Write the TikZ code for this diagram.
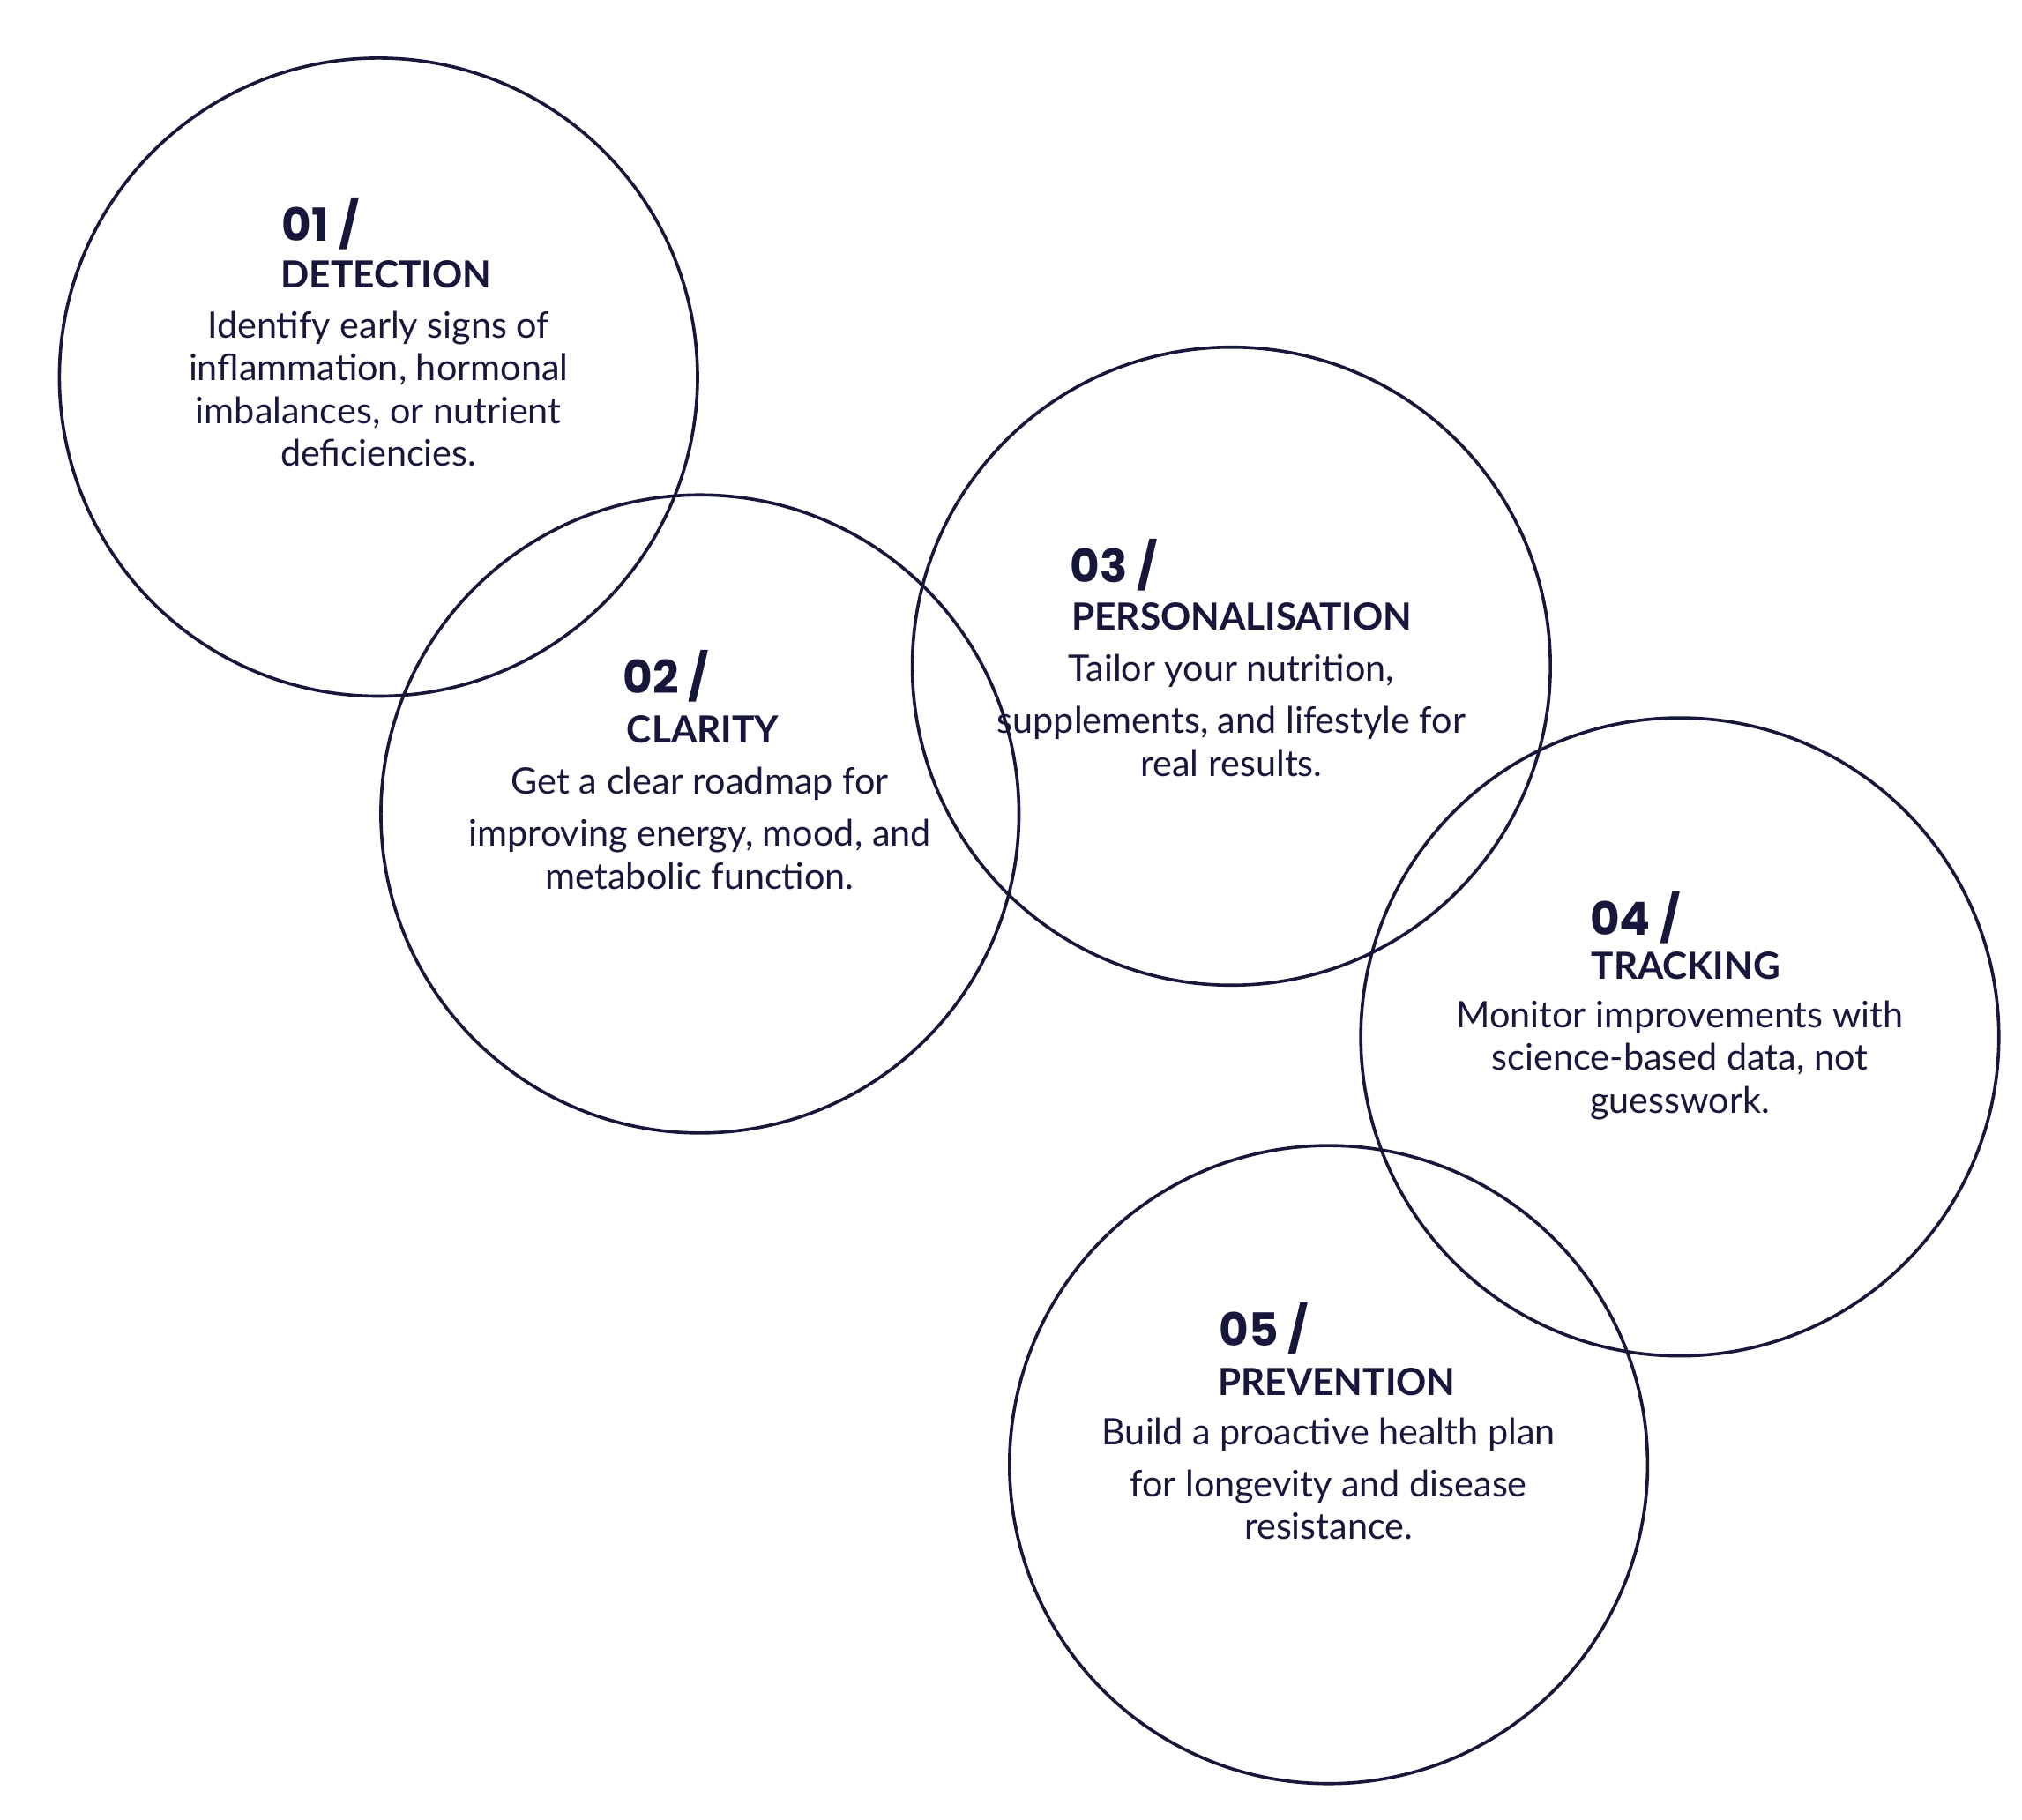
\documentclass[tikz,border=0pt]{standalone}
\usepackage{fontspec}
\setmainfont{Lato}
\newfontfamily\numfont{Poppins}
\definecolor{ink}{HTML}{16173A}
\tikzset{
  ring/.style={draw=ink,line width=0.7pt},
  num/.style={anchor=west,inner sep=0pt,text=ink,font=\numfont\bfseries\fontsize{10}{12}\selectfont},
  head/.style={anchor=west,inner sep=0pt,text=ink,font=\bfseries\fontsize{8.2}{10}\selectfont},
  body/.style={anchor=center,inner sep=0pt,text=ink,align=center,font=\fontsize{8}{9.4}\selectfont}
}
\begin{document}
\begin{tikzpicture}[x=0.01cm,y=-0.01cm]
\useasboundingbox (0,0) rectangle (1560,1404);
\fill[white] (0,0) rectangle (1560,1404);
\node[ring,circle,minimum size=4.92cm,inner sep=0] (c1) at (292,291) {};
\node[ring,circle,minimum size=4.92cm,inner sep=0] (c2) at (540,628) {};
\node[ring,circle,minimum size=4.92cm,inner sep=0] (c3) at (950,514) {};
\node[ring,circle,minimum size=4.92cm,inner sep=0] (c4) at (1296,800) {};
\node[ring,circle,minimum size=4.92cm,inner sep=0] (c5) at (1025,1130) {};
% 1
\node[num] (n1) at (217,173) {01 /};
\node[head] (h1) at (216,212) {DETECTION};
\node[body] (b1) at (292,300) {Identify early signs of\\inflammation, hormonal\\imbalances, or nutrient\\deficiencies.};
% 2
\node[num] (n2) at (480,522) {02 /};
\node[head] (h2) at (483,563) {CLARITY};
\node[body] (b2) at (540,639) {Get a clear roadmap for\\[2pt]improving energy, mood, and\\metabolic function.};
% 3
\node[num] (n3) at (825,436) {03 /};
\node[head] (h3) at (826,476) {PERSONALISATION};
\node[body] (b3) at (950,552) {Tailor your nutrition,\\[2pt]supplements, and lifestyle for\\real results.};
% 4
\node[num] (n4) at (1226,708) {04 /};
\node[head] (h4) at (1227,745) {TRACKING};
\node[body] (b4) at (1296,818) {Monitor improvements with\\science-based data, not\\guesswork.};
% 5
\node[num] (n5) at (940,1025) {05 /};
\node[head] (h5) at (939,1066) {PREVENTION};
\node[body] (b5) at (1025,1141) {Build a proactive health plan\\[2pt]for longevity and disease\\resistance.};
\end{tikzpicture}
\end{document}
